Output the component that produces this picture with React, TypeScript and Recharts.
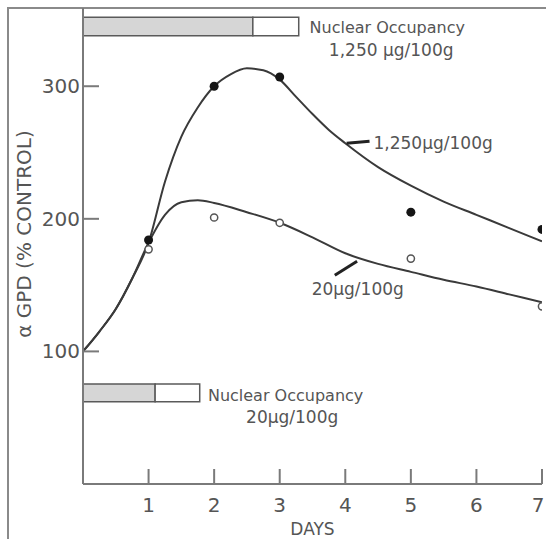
import {
  ComposedChart,
  Line,
  Scatter,
  XAxis,
  YAxis,
  ReferenceArea,
  ReferenceDot,
  ReferenceLine,
} from 'recharts';

// measured points (days after dose, % of control)
const pointDays = [1, 2, 3, 5, 7];
const highDose = [184, 300, 307, 205, 192]; // 1,250 ug/100g, filled dots
const lowDose = [177, 201, 197, 170, 134]; // 20 ug/100g, open circles

// hand-drawn fit curves
const highCurveDays = [0, 0.25, 0.5, 0.75, 1.0, 1.25, 1.5, 1.75, 2.0, 2.25, 2.5, 2.75, 3.0, 3.25, 3.5, 3.75, 4.0, 4.5, 5.0, 5.5, 6.0, 6.5, 7.0];
const highCurveVals = [100, 115, 132, 155, 182, 228, 262, 284, 300, 309, 313.5, 312, 305, 292, 279, 267, 257, 239, 225, 213, 203, 193, 183];
const lowCurveDays = [0, 0.25, 0.5, 0.75, 1.0, 1.25, 1.5, 1.75, 2.0, 2.5, 3.0, 3.5, 4.0, 4.5, 5.0, 5.5, 6.0, 6.5, 7.0];
const lowCurveVals = [100, 115, 132, 155, 182, 203, 212.5, 214, 212, 205, 197, 186, 174, 166, 160, 154, 149, 143, 137];

// nuclear occupancy bars: [shaded start, shaded end / open start, open end], [bottom, top]
const highOccDays = [0, 2.59, 3.29];
const highOccRange = [338, 352];
const lowOccDays = [0, 1.1, 1.78];
const lowOccRange = [62, 75.5];

const dayTicks = [1, 2, 3, 4, 5, 6, 7];
const valueTicks = [100, 200, 300];

const toRows = (xs: number[], ys: number[]) => xs.map((d, i) => ({ day: d, v: ys[i] }));
const highCurve = toRows(highCurveDays, highCurveVals);
const lowCurve = toRows(lowCurveDays, lowCurveVals);
const highPts = toRows(pointDays, highDose);
const lowPts = toRows(pointDays, lowDose);

const FONT = 'DejaVu Sans';
const TEXT = '#555';
const AXIS = '#7a7a7a';
const CURVE = '#3a3a3a';

// text annotations anchored in data space
const notes = [
  { day: 4.64, v: 344.5, text: 'Nuclear Occupancy', size: 16 },
  { day: 4.7, v: 327, text: '1,250 μg/100g', size: 17 },
  { day: 5.34, v: 257, text: '1,250μg/100g', size: 17 },
  { day: 4.19, v: 147, text: '20μg/100g', size: 17 },
  { day: 3.09, v: 67, text: 'Nuclear Occupancy', size: 16 },
  { day: 3.19, v: 50.5, text: '20μg/100g', size: 17 },
];
const leaders = [
  [{ x: 4.02, y: 257 }, { x: 4.37, y: 258.5 }],
  [{ x: 3.84, y: 157.5 }, { x: 4.18, y: 168 }],
];

const YTick = ({ x, y, payload }: any) => {
  const axisX = x + 3;
  return (
    <g>
      <text x={x} y={y} textAnchor="end" dominantBaseline="central" fill={TEXT} fontSize={20} fontFamily={FONT}>
        {payload.value}
      </text>
      <line x1={axisX} y1={y} x2={axisX + 16} y2={y} stroke={AXIS} strokeWidth={2} />
    </g>
  );
};

const XTick = ({ x, y, payload }: any) => {
  // last label sits on the right edge of the figure; nudge it in
  const tx = payload.value === 7 ? x - 4 : x;
  return (
    <g>
      <line x1={x} y1={y} x2={x} y2={y - 15} stroke={AXIS} strokeWidth={2} />
      <text x={tx} y={y + 21} textAnchor="middle" dominantBaseline="central" fill={TEXT} fontSize={20} fontFamily={FONT}>
        {payload.value}
      </text>
    </g>
  );
};

const filledDot = ({ cx, cy }: any) => <circle cx={cx} cy={cy} r={4.5} fill="#151515" />;
const openDot = ({ cx, cy }: any) => <circle cx={cx} cy={cy} r={3.6} fill="#fff" stroke="#555" strokeWidth={1.5} />;

export default function App() {
  return (
    <div style={{ position: 'absolute', left: 0, top: 0, width: 546, height: 539, background: '#fff' }}>
      <div
        style={{
          position: 'absolute',
          left: 7,
          top: 7,
          width: 539,
          height: 532,
          borderTop: '2px solid #8a8a8a',
          borderLeft: '2px solid #8a8a8a',
          boxSizing: 'border-box',
        }}
      />
      <div style={{ position: 'absolute', left: 0, top: 0 }}>
        <ComposedChart width={546} height={539} margin={{ top: 8, right: 4, left: 0, bottom: 0 }}>
          <XAxis
            type="number"
            dataKey="day"
            domain={[0, 7]}
            ticks={dayTicks}
            height={55}
            tickSize={0}
            tickMargin={0}
            tick={<XTick />}
            axisLine={{ stroke: AXIS, strokeWidth: 2 }}
            allowDataOverflow
            label={{
              content: ({ viewBox }: any) => (
                <text
                  x={viewBox.x + viewBox.width / 2}
                  y={529}
                  textAnchor="middle"
                  dominantBaseline="central"
                  fill={TEXT}
                  fontSize={17}
                  fontFamily={FONT}
                >
                  DAYS
                </text>
              ),
            }}
          />
          <YAxis
            type="number"
            dataKey="v"
            domain={[0, 359]}
            ticks={valueTicks}
            width={83}
            tickSize={0}
            tickMargin={3}
            tick={<YTick />}
            axisLine={{ stroke: AXIS, strokeWidth: 2 }}
            allowDataOverflow
            label={{
              content: ({ viewBox }: any) => {
                const cx = 24;
                const cy = viewBox.y + viewBox.height / 2 - 12;
                return (
                  <text
                    x={cx}
                    y={cy}
                    transform={`rotate(-90 ${cx} ${cy})`}
                    textAnchor="middle"
                    dominantBaseline="central"
                    fill={TEXT}
                    fontSize={20}
                    fontFamily={FONT}
                  >
                    α GPD (% CONTROL)
                  </text>
                );
              },
            }}
          />

          <ReferenceArea x1={highOccDays[0]} x2={highOccDays[1]} y1={highOccRange[0]} y2={highOccRange[1]} fill="#d6d6d6" fillOpacity={1} stroke="#5a5a5a" strokeWidth={1.5} />
          <ReferenceArea x1={highOccDays[1]} x2={highOccDays[2]} y1={highOccRange[0]} y2={highOccRange[1]} fill="#fff" fillOpacity={1} stroke="#5a5a5a" strokeWidth={1.5} />
          <ReferenceArea x1={lowOccDays[0]} x2={lowOccDays[1]} y1={lowOccRange[0]} y2={lowOccRange[1]} fill="#d6d6d6" fillOpacity={1} stroke="#5a5a5a" strokeWidth={1.5} />
          <ReferenceArea x1={lowOccDays[1]} x2={lowOccDays[2]} y1={lowOccRange[0]} y2={lowOccRange[1]} fill="#fff" fillOpacity={1} stroke="#5a5a5a" strokeWidth={1.5} />

          <Line data={lowCurve} dataKey="v" type="monotone" stroke={CURVE} strokeWidth={2} dot={false} isAnimationActive={false} />
          <Line data={highCurve} dataKey="v" type="monotone" stroke={CURVE} strokeWidth={2} dot={false} isAnimationActive={false} />

          <Scatter data={lowPts} dataKey="v" shape={openDot} isAnimationActive={false} />
          <Scatter data={highPts} dataKey="v" shape={filledDot} isAnimationActive={false} />

          {leaders.map((seg, i) => (
            <ReferenceLine key={`lead-${i}`} segment={seg} stroke="#222" strokeWidth={3} />
          ))}
          {notes.map((n, i) => (
            <ReferenceDot
              key={`note-${i}`}
              x={n.day}
              y={n.v}
              r={0}
              stroke="none"
              fill="none"
              label={{ value: n.text, position: 'center', fill: TEXT, fontSize: n.size, fontFamily: FONT }}
            />
          ))}
        </ComposedChart>
      </div>
    </div>
  );
}
